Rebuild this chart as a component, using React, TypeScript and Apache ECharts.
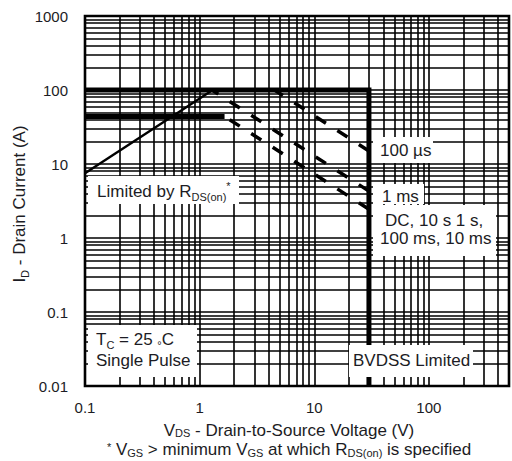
import { useEffect, useRef } from 'react';
import * as echarts from 'echarts';

// ---- axis ranges & tick labels ----
const xMin = 0.1;
const xMax = 500;
const yMin = 0.01;
const yMax = 1000;
const xTickLabels = ['0.1', '1', '10', '100'];
const yTickLabels = ['0.01', '0.1', '1', '10', '100', '1000'];

// minor log-grid lines (2..9 in every decade)
const xGridMinor = [0.2, 0.3, 0.4, 0.5, 0.6, 0.7, 0.8, 0.9, 2, 3, 4, 5, 6, 7, 8, 9, 20, 30, 40, 50, 60, 70, 80, 90, 200, 300, 400];
const yGridMinor = [
  0.02, 0.03, 0.04, 0.05, 0.06, 0.07, 0.08, 0.09,
  0.2, 0.3, 0.4, 0.5, 0.6, 0.7, 0.8, 0.9,
  2, 3, 4, 5, 6, 7, 8, 9,
  20, 30, 40, 50, 60, 70, 80, 90,
  200, 300, 400, 500, 600, 700, 800, 900,
];

// ---- SOA boundaries [VDS (V), ID (A)] ----
const rdsOnLimit = [[0.1, 7.5], [1.3, 100]];
const currentAndBvdssLimit = [[0.1, 100], [30, 100], [30, 0.01]];
const dcCurrentLimit = [[0.1, 44], [1.65, 44]];
const pulse100us = [[30, 15], [4.5, 100]];
const pulse1ms = [[30, 4.3], [1.28, 100]];
const pulseDC = [[30, 2.45], [1.65, 44]];

const F = '"Liberation Sans", Arial, Helvetica, sans-serif';
const TXT = '#1c1c24';

const decadeLabel = (labels: string[], firstExp: number) => (v: number) => {
  const l = Math.log10(v);
  const e = Math.round(l);
  if (Math.abs(l - e) > 1e-6) return '';
  return labels[e - firstExp] ?? '';
};

const rich: any = {
  n: { fontSize: 17, lineHeight: 22, fontFamily: F, fill: TXT, verticalAlign: 'middle' },
  s: { fontSize: 11, lineHeight: 13, fontFamily: F, fill: TXT, verticalAlign: 'bottom' },
  u: { fontSize: 11, lineHeight: 11, fontFamily: F, fill: TXT, verticalAlign: 'top' },
  d: { fontSize: 11, lineHeight: 2, fontFamily: F, fill: TXT, verticalAlign: 'bottom' },
  // compact variants for the stacked axis-title lines
  m: { fontSize: 17, lineHeight: 17, fontFamily: F, fill: TXT, verticalAlign: 'middle' },
  b: { fontSize: 11, lineHeight: 6, fontFamily: F, fill: TXT, verticalAlign: 'bottom' },
  f: { fontSize: 11, lineHeight: 14, fontFamily: F, fill: TXT, verticalAlign: 'top' },
};

const txt = (x: number, y: number, text: string, align = 'left', rotation = 0) => ({
  type: 'text',
  x,
  y,
  rotation,
  z: 101,
  silent: true,
  style: { text, rich, align, verticalAlign: 'middle', fontSize: 17, fontFamily: F, fill: TXT },
});

const box = (x: number, y: number, w: number, h: number) => ({
  type: 'rect',
  z: 100,
  silent: true,
  shape: { x, y, width: w, height: h },
  style: { fill: '#fff' },
});

const lineSeries = (data: number[][], width: number, type: any = 'solid') => ({
  type: 'line',
  data,
  symbol: 'none',
  showSymbol: false,
  silent: true,
  z: 10,
  lineStyle: { color: '#000', width, type, cap: 'butt', join: 'miter' },
});

export default function App() {
  const ref = useRef<HTMLDivElement>(null);
  useEffect(() => {
    document.body.style.margin = '0';
    const chart = echarts.init(ref.current as HTMLDivElement, null, { renderer: 'svg' });
    const option: any = {
      animation: false,
      backgroundColor: '#fff',
      grid: { left: 85, right: 2, top: 16, bottom: 75, show: true, borderColor: '#000', borderWidth: 2.6 },
      xAxis: {
        type: 'log',
        logBase: 10,
        min: xMin,
        max: xMax,
        axisLine: { show: false },
        axisTick: { show: false },
        splitLine: { show: true, lineStyle: { color: '#000', width: 1.6 } },
        axisLabel: { margin: 14, fontSize: 15, color: TXT, fontFamily: F, formatter: decadeLabel(xTickLabels, -1) },
      },
      yAxis: {
        type: 'log',
        logBase: 10,
        min: yMin,
        max: yMax,
        axisLine: { show: false },
        axisTick: { show: false },
        splitLine: { show: true, lineStyle: { color: '#000', width: 1.6 } },
        axisLabel: { margin: 17, fontSize: 15, color: TXT, fontFamily: F, formatter: decadeLabel(yTickLabels, -2) },
      },
      series: [
        {
          type: 'line',
          data: [[0.1, 0.01]],
          symbol: 'none',
          silent: true,
          lineStyle: { opacity: 0 },
          z: 1,
          markLine: {
            silent: true,
            z: 1,
            symbol: ['none', 'none'],
            label: { show: false },
            lineStyle: { color: '#000', width: 1.6, type: 'solid' },
            data: [
              ...xGridMinor.map((v) => ({ xAxis: v })),
              ...yGridMinor.map((v) => ({ yAxis: v })),
            ],
          },
        },
        lineSeries(rdsOnLimit, 2.4),
        lineSeries(currentAndBvdssLimit, 5),
        lineSeries(dcCurrentLimit, 5),
        lineSeries(pulse100us, 3.5, [12, 13.6]),
        lineSeries(pulse1ms, 3.5, [12, 13.6]),
        lineSeries(pulseDC, 3.5, [12, 13.6]),
      ],
      graphic: {
        elements: [
          box(88, 176, 151, 28),
          txt(97, 191.5, '{n|Limited by R}{s|DS(on)}{u|*}'),
          box(88, 325, 109, 52),
          txt(96, 339.5, '{n|T}{s|C}{n| = 25 }{d|°}{n|C}'),
          txt(96, 360, '{n|Single Pulse}'),
          box(349, 345, 124, 32),
          txt(353, 360, '{n|BVDSS Limited}'),
          box(373, 137, 60, 26),
          txt(380, 150, '{n|100 µs}'),
          box(373, 184, 51, 20),
          txt(382, 196, '{n|1 ms}'),
          box(373, 205, 123, 51),
          txt(385, 220, '{n|DC, 10 s 1 s,}'),
          txt(380, 238.5, '{n|100 ms, 10 ms}'),
          txt(289, 430, '{m|V}{b|DS}{m| - Drain-to-Source Voltage (V)}', 'center'),
          txt(289, 449.5, '{f|*}{m| V}{b|GS}{m| > minimum V}{b|GS}{m| at which R}{b|DS(on)}{m| is specified}', 'center'),
          txt(19, 204, '{n|I}{s|D}{n| - Drain Current (A)}', 'center', Math.PI / 2),
        ],
      },
    };
    chart.setOption(option);
    return () => chart.dispose();
  }, []);
  return <div ref={ref} style={{ width: 512, height: 461 }} />;
}
